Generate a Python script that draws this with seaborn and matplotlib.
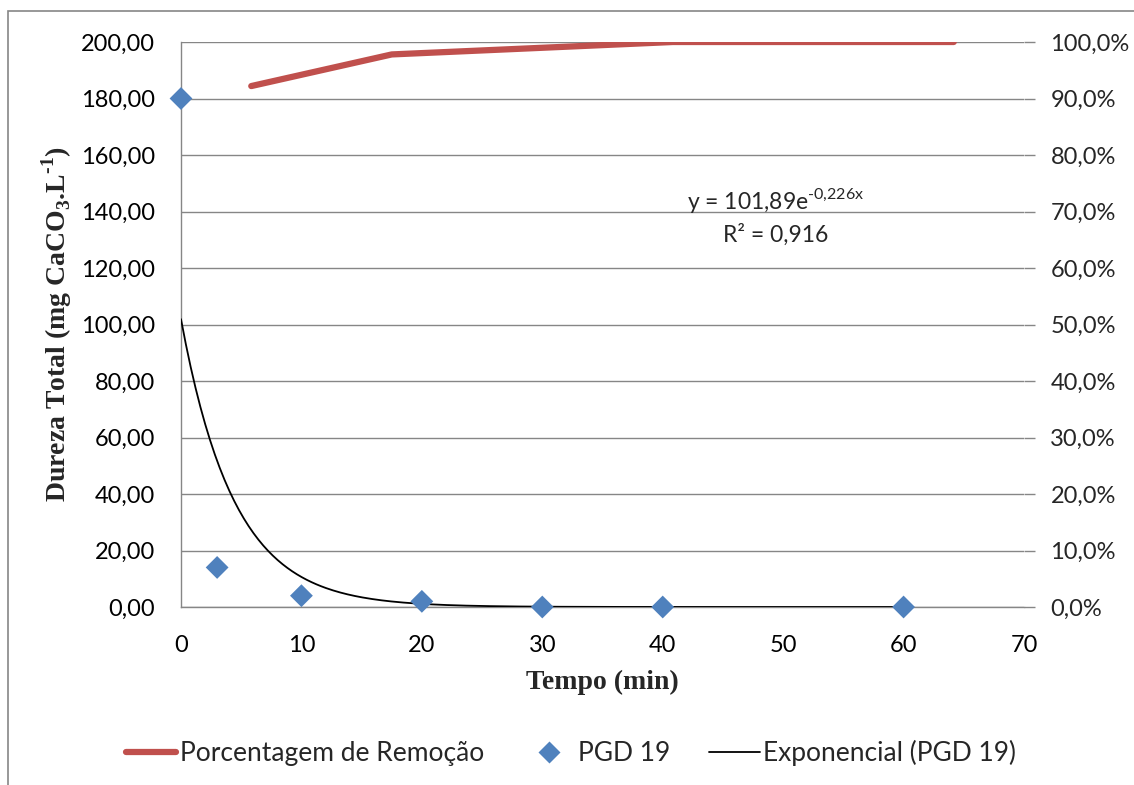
import numpy as np
import pandas as pd
import seaborn as sns
import matplotlib.pyplot as plt
from matplotlib.patches import Rectangle
from matplotlib.ticker import FuncFormatter
from matplotlib.lines import Line2D

# dados
tempo = [0, 3, 10, 20, 30, 40, 60]
dureza = [180, 14, 4, 2, 0, 0, 0]
remocao = [92.2, 97.8, 98.9, 100.0, 100.0, 100.0]   # % (eixo secundario, categorias)
cat_remocao = [0, 1, 2, 3, 4, 5]
# linha de tendencia exponencial (coeficientes mostrados no grafico)
coef_a, coef_b = 101.89, -0.226

sns.set_style("white")
plt.rcParams['font.family'] = ['Lato', 'DejaVu Sans']
plt.rcParams['mathtext.fontset'] = 'custom'
plt.rcParams['mathtext.rm'] = 'Liberation Serif:bold'
plt.rcParams['mathtext.sf'] = 'Lato'

grid_col = '#868686'
red = '#C0504D'
blue = '#4F81BD'

fig = plt.figure(figsize=(11.34, 7.85), dpi=100)
pos = [181 / 1134, 1 - 607 / 785, (1024 - 181) / 1134, (607 - 42) / 785]
ax = fig.add_axes(pos)

df = pd.DataFrame({"Tempo": tempo, "Dureza": dureza})
xs = np.linspace(0, 60, 300)
trend = pd.DataFrame({"x": xs, "y": coef_a * np.exp(coef_b * xs)})

sns.lineplot(data=trend, x="x", y="y", ax=ax, color='black', lw=1.3, zorder=3)
sns.scatterplot(data=df, x="Tempo", y="Dureza", ax=ax, marker='D', s=135,
                color=blue, edgecolor='none', zorder=4, clip_on=False)

ax.set_xlim(0, 70)
ax.set_ylim(0, 200)
ax.set_xticks(range(0, 71, 10))
ax.set_yticks(range(0, 201, 20))
ax.yaxis.set_major_formatter(FuncFormatter(lambda v, p: f"{v:.2f}".replace('.', ',')))
ax.grid(axis='y', color=grid_col, lw=1)
ax.set_axisbelow(True)
for s in ['left', 'bottom']:
    ax.spines[s].set_color(grid_col)
    ax.spines[s].set_linewidth(1)
ax.spines['top'].set_visible(False)
ax.spines['right'].set_visible(False)
ax.tick_params(axis='both', length=0, labelsize=17, colors='black')
ax.tick_params(axis='x', pad=20)
ax.tick_params(axis='y', pad=18.5)
ax.set_xlabel("Tempo (min)", fontsize=20, fontweight='bold', family='Liberation Serif', labelpad=10)
ax.set_ylabel("Dureza Total (mg CaCO$_{3}$.L$^{\u20101}$)", fontsize=20, fontweight='bold',
              family='Liberation Serif', labelpad=5)

ax.text(0.705, 0.72, "y = 101,89e$^{\\mathsf{\u20100{,}226x}}$", transform=ax.transAxes,
        ha='center', va='center', fontsize=16.5)
ax.text(0.705, 0.658, "R² = 0,916", transform=ax.transAxes, ha='center', va='center', fontsize=16.5)

# eixo secundario para a porcentagem de remocao
ax2 = fig.add_axes(pos, frameon=False)
rem = pd.DataFrame({"cat": cat_remocao, "rem": remocao})
sns.lineplot(data=rem, x="cat", y="rem", ax=ax2, color=red, lw=4.5, zorder=5,
             solid_capstyle='round')
ax2.set_xlim(-0.5, 5.5)
ax2.set_ylim(0, 100)
ax2.set_xticks([])
ax2.set_xlabel("")
ax2.yaxis.tick_right()
ax2.yaxis.set_label_position('right')
ax2.set_ylabel("")
ax2.set_yticks(range(0, 101, 10))
ax2.yaxis.set_major_formatter(FuncFormatter(lambda v, p: f"{v:.1f}%".replace('.', ',')))
ax2.spines['right'].set_visible(True)
ax2.spines['right'].set_color(grid_col)
ax2.spines['right'].set_linewidth(1)
ax2.tick_params(axis='y', direction='out', length=8, width=1, color=grid_col,
                labelsize=17, pad=11, right=True, left=False)

handles = [Line2D([], [], color=red, lw=4.5, solid_capstyle='round'),
           Line2D([], [], color=blue, marker='D', ms=11, lw=0, markeredgecolor='none'),
           Line2D([], [], color='black', lw=1.3)]
labels = ["Porcentagem de Remoção", "PGD 19", "Exponencial (PGD 19)"]
fig.legend(handles, labels, loc='center', bbox_to_anchor=(571 / 1134, 1 - 753 / 785),
           ncol=3, frameon=False, fontsize=19, handlelength=1.9, handletextpad=0.15,
           columnspacing=1.5)

fig.patches.append(Rectangle((8 / 1134, -0.1), 1.2, 1 - 11 / 785 + 0.1, transform=fig.transFigure,
                             fill=False, edgecolor=grid_col, lw=1.2, zorder=0))

fig.savefig("out.png", dpi=100)
